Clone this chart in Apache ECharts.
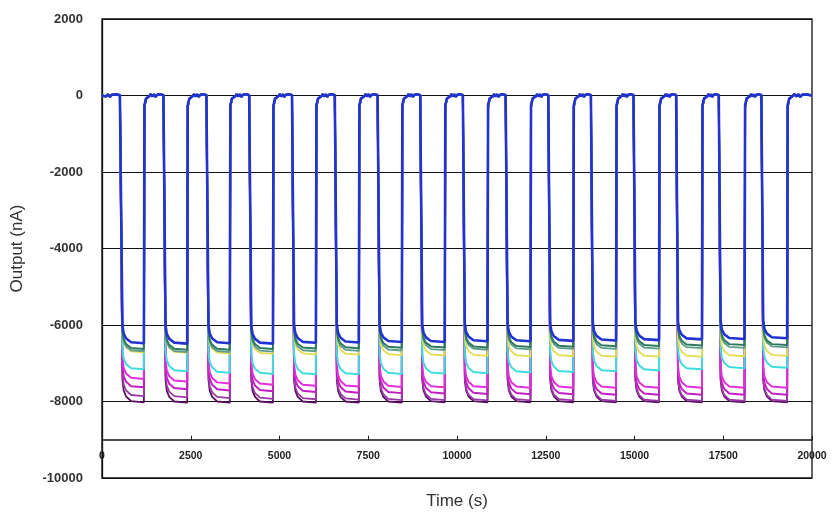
<!DOCTYPE html>
<html>
<head>
<meta charset="utf-8">
<script src="https://cdn.jsdelivr.net/npm/echarts@6/dist/echarts.min.js"></script>
<style>html,body{margin:0;padding:0;background:#fff;}#c{width:833px;height:521px;}</style>
</head>
<body>
<div id="c"></div>
<script>
// Pulse timing (s)
const dropTimes = [560, 1775, 2985, 4190, 5395, 6600, 7805, 9005, 10205, 11410, 12610, 13810, 15010, 16210, 17410, 18610];
const riseTimes = [1180, 2400, 3600, 4815, 6025, 7235, 8445, 9655, 10860, 12070, 13275, 14480, 15690, 16900, 18100, 19300];
const xTicks = [0, 2500, 5000, 7500, 10000, 12500, 15000, 17500, 20000];
const yTicks = [2000, 0, -2000, -4000, -6000, -8000, -10000];

// Plateau level of each trace during each pulse (nA)
const levelsBlue    = [-6450,-6460,-6450,-6460,-6440,-6430,-6420,-6420,-6400,-6400,-6390,-6380,-6370,-6350,-6340,-6320];
const levelsGreen   = [-6600,-6620,-6620,-6600,-6590,-6580,-6570,-6560,-6560,-6550,-6540,-6530,-6520,-6510,-6500,-6500];
const levelsTeal    = [-6660,-6680,-6680,-6670,-6660,-6650,-6640,-6630,-6620,-6610,-6600,-6600,-6590,-6580,-6570,-6560];
const levelsYellow  = [-6690,-6700,-6720,-6730,-6740,-6750,-6760,-6770,-6780,-6790,-6790,-6800,-6800,-6800,-6790,-6780];
const levelsCyan    = [-7130,-7180,-7220,-7250,-7260,-7260,-7250,-7240,-7230,-7210,-7200,-7180,-7160,-7130,-7100,-7090];
const levelsMagenta = [-7380,-7450,-7500,-7530,-7560,-7580,-7590,-7600,-7600,-7610,-7610,-7610,-7610,-7610,-7610,-7610];
const levelsPink    = [-7600,-7650,-7680,-7700,-7720,-7740,-7750,-7760,-7770,-7780,-7780,-7790,-7790,-7790,-7790,-7790];
const levelsViolet  = [-7830,-7860,-7880,-7900,-7910,-7920,-7930,-7930,-7940,-7940,-7940,-7950,-7950,-7950,-7950,-7950];
const levelsDark    = [-7990,-8000,-8000,-8000,-8000,-8000,-8000,-7990,-7990,-7990,-7990,-7990,-7990,-7990,-7990,-7990];

// Shape of a step: time offset (s) and fraction of plateau level
const fallShape = [[0, 0], [15, 0.93], [50, 0.965], [120, 0.985], [260, 1.0]];
const riseShape = [[0, 1.0], [15, 0.04], [60, 0.012], [150, 0.003]];
const topWiggle = [0, 35, -25, 30, -35, 20, -15, 30, -20, 10];

const traces = [
  {name: 'S9', color: '#5a1060', levels: levelsDark, w: 1.8},
  {name: 'S8', color: '#9a3aa6', levels: levelsViolet, w: 1.8},
  {name: 'S7', color: '#c020c0', levels: levelsPink, w: 2},
  {name: 'S6', color: '#e030d8', levels: levelsMagenta, w: 2},
  {name: 'S5', color: '#40dcdc', levels: levelsCyan, w: 2},
  {name: 'S4', color: '#e4dc50', levels: levelsYellow, w: 1.8},
  {name: 'S3', color: '#5c9c8c', levels: levelsTeal, w: 1.8},
  {name: 'S2', color: '#2e7a5e', levels: levelsGreen, w: 2},
  {name: 'S1', color: '#2233d0', levels: levelsBlue, w: 2.6}
];

function topSegment(pts, t0, t1) {
  const n = topWiggle.length;
  for (let i = 1; i < n; i++) {
    const t = t0 + (t1 - t0) * i / n;
    pts.push([t, topWiggle[i]]);
  }
}

function buildTrace(levels) {
  const pts = [[0, 0]];
  topSegment(pts, 0, dropTimes[0]);
  for (let k = 0; k < dropTimes.length; k++) {
    const td = dropTimes[k], tr = riseTimes[k], L = levels[k];
    fallShape.forEach(s => pts.push([td + s[0], L * s[1]]));
    pts.push([tr, L * 1.004]);
    riseShape.forEach(s => pts.push([tr + s[0], L * s[1]]));
    const next = k + 1 < dropTimes.length ? dropTimes[k + 1] : 20000;
    topSegment(pts, tr + 150, next);
    if (k + 1 >= dropTimes.length) pts.push([20000, 0]);
  }
  return pts;
}

const chart = echarts.init(document.getElementById('c'), null, {renderer: 'canvas'});
chart.setOption({
  animation: false,
  backgroundColor: '#fff',
  grid: {left: 102, right: 21, top: 19, bottom: 43, containLabel: false, outerBoundsMode: 'none',
    show: true, borderColor: '#111', borderWidth: 1.3, backgroundColor: 'transparent'},
  xAxis: {
    type: 'value', min: 0, max: 20000, interval: 2500, offset: -38.25,
    axisLine: {show: true, onZero: false, lineStyle: {color: '#111', width: 1.5}},
    axisTick: {show: true, inside: true, length: 4, lineStyle: {color: '#111'}},
    splitLine: {show: false},
    axisLabel: {color: '#222', fontFamily: 'Liberation Sans', fontWeight: 'bold', fontSize: 10.5, margin: 11,
      formatter: v => xTicks.includes(v) ? String(v) : ''},
    name: 'Time (s)', nameLocation: 'middle', nameGap: 53,
    nameTextStyle: {color: '#333', fontFamily: 'Liberation Sans', fontSize: 17}
  },
  yAxis: {
    type: 'value', min: -10000, max: 2000, interval: 2000,
    axisLine: {show: true, lineStyle: {color: '#111', width: 1.3}},
    axisTick: {show: false},
    splitLine: {show: true, lineStyle: {color: '#111', width: 1}},
    axisLabel: {color: '#333', fontFamily: 'Liberation Sans', fontWeight: 'bold', fontSize: 13, margin: 19,
      formatter: v => yTicks.includes(v) ? String(v) : ''},
    name: 'Output (nA)', nameLocation: 'middle', nameGap: 76,
    nameTextStyle: {color: '#333', fontFamily: 'Liberation Sans', fontSize: 17}
  },
  series: traces.map(t => ({
    name: t.name, type: 'line', data: buildTrace(t.levels), showSymbol: false, smooth: false,
    lineStyle: {color: t.color, width: t.w}, itemStyle: {color: t.color}
  }))
});
</script>
</body>
</html>
